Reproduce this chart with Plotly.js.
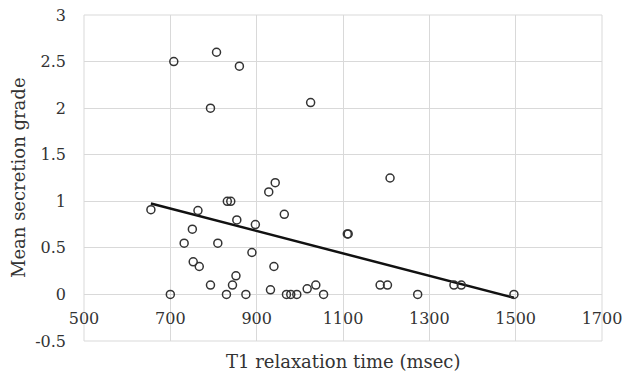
<!DOCTYPE html>
<html>
<head>
<meta charset="utf-8">
<script src="https://cdn.plot.ly/plotly-3.0.1.min.js"></script>
<style>html,body{margin:0;padding:0;background:#fff;}#chart{width:624px;height:376px;}</style>
</head>
<body>
<div id="chart"></div>
<script>
// T1 relaxation time (msec)
const t1Values = [708, 807, 860, 793, 1025,
  655, 764, 832, 840, 854, 751, 732, 810, 753, 767, 793, 852, 844, 700, 830, 875,
  928, 943, 964, 897, 889, 940, 932, 969, 979, 993, 1017, 1037, 1055, 1110, 1112,
  1209, 1186, 1203, 1273, 1357, 1374, 1496];
// Mean secretion grade
const gradeValues = [2.5, 2.6, 2.45, 2.0, 2.06,
  0.91, 0.9, 1.0, 1.0, 0.8, 0.7, 0.55, 0.55, 0.35, 0.3, 0.1, 0.2, 0.1, 0, 0, 0,
  1.1, 1.2, 0.86, 0.75, 0.45, 0.3, 0.05, 0, 0, 0, 0.06, 0.1, 0, 0.65, 0.65,
  1.25, 0.1, 0.1, 0, 0.1, 0.1, 0];
const xTickVals = [500, 700, 900, 1100, 1300, 1500, 1700];
const yTickVals = [-0.5, 0, 0.5, 1, 1.5, 2, 2.5, 3];
const yTickText = ['-0.5', '0', '0.5', '1', '1.5', '2', '2.5', '3'];

// least-squares linear trend line
const n = t1Values.length;
const mx = t1Values.reduce((a, b) => a + b, 0) / n;
const my = gradeValues.reduce((a, b) => a + b, 0) / n;
let sxy = 0, sxx = 0;
for (let i = 0; i < n; i++) { sxy += (t1Values[i] - mx) * (gradeValues[i] - my); sxx += (t1Values[i] - mx) ** 2; }
const slope = sxy / sxx, icpt = my - slope * mx;
const xMin = Math.min(...t1Values), xMax = Math.max(...t1Values);
const trendX = [xMin, xMax];
const trendY = trendX.map(v => icpt + slope * v);

const tickFont = {family: 'DejaVu Serif, serif', size: 16, color: '#333'};
const titleFont = {family: 'DejaVu Serif, serif', size: 18, color: '#333'};
const data = [
  {x: trendX, y: trendY, type: 'scatter', mode: 'lines', line: {color: '#111', width: 2.5}, hoverinfo: 'skip'},
  {x: t1Values, y: gradeValues, type: 'scatter', mode: 'markers',
   marker: {symbol: 'circle-open', size: 8, color: '#333', line: {width: 1.5, color: '#333'}}}
];
const yZeroFrac = (0 - (-0.5)) / 3.5;
const layout = {
  width: 624, height: 376,
  margin: {l: 84, r: 22, t: 15, b: 35},
  paper_bgcolor: '#fff', plot_bgcolor: '#fff',
  showlegend: false,
  font: tickFont,
  xaxis: {range: [500, 1700], tickvals: xTickVals, ticktext: xTickVals.map(String),
          showgrid: true, gridcolor: '#d9d9d9', gridwidth: 1, zeroline: false,
          showline: false, anchor: 'free', position: yZeroFrac, ticks: '',
          ticklabelstandoff: 13, tickfont: tickFont},
  yaxis: {range: [-0.5, 3], tickvals: yTickVals, ticktext: yTickText,
          showgrid: true, gridcolor: '#d9d9d9', gridwidth: 1, zeroline: true,
          zerolinecolor: '#d9d9d9', zerolinewidth: 1, showline: false, ticks: '',
          ticklabelstandoff: 17, tickfont: tickFont},
  shapes: [{type: 'rect', xref: 'paper', yref: 'paper', x0: 0, x1: 1, y0: 0, y1: 1,
            line: {color: '#d9d9d9', width: 1}, layer: 'below'}],
  annotations: [
    {text: 'T1 relaxation time (msec)', xref: 'paper', yref: 'paper', x: 0.5, y: 0,
     yshift: -20, showarrow: false, yanchor: 'middle', xanchor: 'center', font: titleFont},
    {text: 'Mean secretion grade', xref: 'paper', yref: 'paper', x: 0, y: 0.5,
     xshift: -66, textangle: -90, showarrow: false, xanchor: 'center', yanchor: 'middle', font: titleFont}
  ]
};
Plotly.newPlot('chart', data, layout, {displayModeBar: false, staticPlot: true});
</script>
</body>
</html>
